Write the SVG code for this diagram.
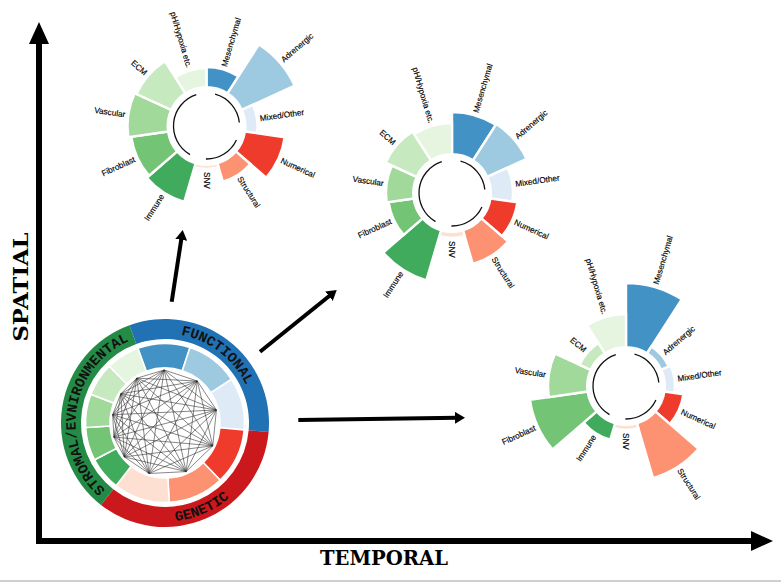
<svg xmlns="http://www.w3.org/2000/svg" xmlns:xlink="http://www.w3.org/1999/xlink" width="781" height="583" viewBox="0 0 781 583">
<style>
.bar{stroke:#fff;stroke-width:2.4}
.seg{stroke:#fff;stroke-width:1.6}
.mes{fill:#4292c6}.adr{fill:#9ecae1}.mix{fill:#deebf7}
.num{fill:#ef3b2c}.str{fill:#fc9272}.snv{fill:#fee0d2}
.imm{fill:#41ab5d}.fib{fill:#74c476}.vas{fill:#a1d99b}.ecm{fill:#c7e9c0}.ph{fill:#e5f5e0}
.l{font-family:"Liberation Sans",Arial,sans-serif;font-size:8.2px;fill:#000;stroke:#000;stroke-width:0.15}
.le{text-anchor:end}
.arcs{fill:none;stroke:#111;stroke-width:1.3}
.ring{font-family:"Liberation Mono","Courier New",monospace;font-weight:bold;font-size:14.2px;fill:#111}
.axis{stroke:#000;stroke-width:6;fill:none}
.conn{stroke:#000;stroke-width:4;fill:none}
.axlbl{font-family:"DejaVu Serif",serif;font-weight:bold;font-size:20px;fill:#000}
.net{fill:none;stroke:#222;stroke-width:0.55}
</style>
<defs>
<marker id="ah" viewBox="0 0 10 12" markerUnits="userSpaceOnUse" markerWidth="10" markerHeight="12" refX="2" refY="6" orient="auto"><path d="M0,0 L10,6 L0,12 Z" fill="#000"/></marker>
<marker id="axh" viewBox="0 0 22 20" markerUnits="userSpaceOnUse" markerWidth="22" markerHeight="20" refX="0" refY="10" orient="auto"><path d="M0,0 L22,10 L0,20 Z" fill="#000"/></marker>
<path id="roseArcs" class="arcs" d="M8.54,-31.87 A33,33 0 0 1 32.82,-3.45 M29.91,13.95 A33,33 0 0 1 -0.58,32.99 M-16.5,28.58 A33,33 0 0 1 -10.20,-31.39"/>
<path id="pFun" d="M134.39,338.90 A89.5,89.5 0 0 1 254.16,430.80"/>
<path id="pGen" d="M104.35,500.62 A98.5,98.5 0 0 0 263.13,431.59"/>
<path id="pStr" d="M109.89,493.53 A89.5,89.5 0 0 1 134.39,338.90"/>
</defs>
<rect x="0" y="0" width="781" height="583" fill="#fff"/>
<line x1="0" y1="581" x2="781" y2="581" stroke="#cfcfcf" stroke-width="2"/>

<g id="axes">
<line class="axis" x1="39" y1="544" x2="39" y2="44" marker-end="url(#axh)"/>
<line class="axis" x1="36" y1="541" x2="751" y2="541" marker-end="url(#axh)"/>
<text id="axis-spatial" class="axlbl" transform="translate(27.5,287) rotate(-90)" text-anchor="middle" textLength="109" lengthAdjust="spacingAndGlyphs">SPATIAL</text>
<text id="axis-temporal" class="axlbl" x="384" y="565" text-anchor="middle" textLength="128" lengthAdjust="spacingAndGlyphs">TEMPORAL</text>
</g>

<g id="connectors">
<line class="conn" x1="171.7" y1="301.7" x2="181.5" y2="237.9" marker-end="url(#ah)"/>
<line class="conn" x1="260" y1="351.7" x2="330.5" y2="295" marker-end="url(#ah)"/>
<line class="conn" x1="298.3" y1="420" x2="457" y2="417.8" marker-end="url(#ah)"/>
</g>

<g id="hub">
<g transform="translate(165,423)">
<path fill="#2171b5" d="M-35.57,-97.73 A104,104 0 0 1 103.60,9.06 L83.68,7.32 A84,84 0 0 0 -28.73,-78.93 Z"/>
<path fill="#cb181d" d="M103.60,9.06 A104,104 0 0 1 -64.03,81.95 L-51.72,66.19 A84,84 0 0 0 83.68,7.32 Z"/>
<path fill="#238b45" d="M-64.03,81.95 A104,104 0 0 1 -35.57,-97.73 L-28.73,-78.93 A84,84 0 0 0 -51.72,66.19 Z"/>
<path class="seg mes" d="M-27.19,-74.71 A79.5,79.5 0 0 1 25.00,-75.47 L17.30,-52.21 A55,55 0 0 0 -18.81,-51.68 Z"/>
<path class="seg adr" d="M25.00,-75.47 A79.5,79.5 0 0 1 66.42,-43.69 L45.95,-30.22 A55,55 0 0 0 17.30,-52.21 Z"/>
<path class="seg mix" d="M66.42,-43.69 A79.5,79.5 0 0 1 79.20,6.93 L54.79,4.80 A55,55 0 0 0 45.95,-30.22 Z"/>
<path class="seg num" d="M79.20,6.93 A79.5,79.5 0 0 1 55.23,57.18 L38.21,39.56 A55,55 0 0 0 54.79,4.80 Z"/>
<path class="seg str" d="M55.23,57.18 A79.5,79.5 0 0 1 4.16,79.39 L2.88,54.92 A55,55 0 0 0 38.21,39.56 Z"/>
<path class="seg snv" d="M4.16,79.39 A79.5,79.5 0 0 1 -48.95,62.65 L-33.86,43.34 A55,55 0 0 0 2.88,54.92 Z"/>
<path class="seg imm" d="M-48.95,62.65 A79.5,79.5 0 0 1 -70.45,36.83 L-48.74,25.48 A55,55 0 0 0 -33.86,43.34 Z"/>
<path class="seg fib" d="M-70.45,36.83 A79.5,79.5 0 0 1 -79.37,4.44 L-54.91,3.07 A55,55 0 0 0 -48.74,25.48 Z"/>
<path class="seg vas" d="M-79.37,4.44 A79.5,79.5 0 0 1 -74.12,-28.75 L-51.28,-19.89 A55,55 0 0 0 -54.91,3.07 Z"/>
<path class="seg ecm" d="M-74.12,-28.75 A79.5,79.5 0 0 1 -55.63,-56.80 L-38.48,-39.30 A55,55 0 0 0 -51.28,-19.89 Z"/>
<path class="seg ph" d="M-55.63,-56.80 A79.5,79.5 0 0 1 -27.19,-74.71 L-18.81,-51.68 A55,55 0 0 0 -38.48,-39.30 Z"/>
</g>
<path class="net" d="M164.2,370 L197.3,381 L216.4,410 L212.8,445.8 L186.1,471.6 L149.1,473.5 L124.3,456.9 L113.9,437.1 L112.7,414.7 L120.8,393.8 L136.8,378.2 Z
M164.2,370 L216.4,410 L186.1,471.6 L124.3,456.9 L112.7,414.7 L136.8,378.2 L197.3,381 L212.8,445.8 L149.1,473.5 L113.9,437.1 L120.8,393.8 Z
M164.2,370 L212.8,445.8 L124.3,456.9 L120.8,393.8 L197.3,381 L186.1,471.6 L113.9,437.1 L136.8,378.2 L216.4,410 L149.1,473.5 L112.7,414.7 Z
M164.2,370 L186.1,471.6 L112.7,414.7 L197.3,381 L149.1,473.5 L120.8,393.8 L216.4,410 L124.3,456.9 L136.8,378.2 L212.8,445.8 L113.9,437.1 Z
M164.2,370 L149.1,473.5 L136.8,378.2 L186.1,471.6 L120.8,393.8 L212.8,445.8 L112.7,414.7 L216.4,410 L113.9,437.1 L197.3,381 L124.3,456.9 Z"/>
<text class="ring"><textPath xlink:href="#pFun" href="#pFun" startOffset="50%" text-anchor="middle">FUNCTIONAL</textPath></text>
<text class="ring"><textPath xlink:href="#pGen" href="#pGen" startOffset="50%" text-anchor="middle">GENETIC</textPath></text>
<text class="ring"><textPath xlink:href="#pStr" href="#pStr" startOffset="50%" text-anchor="middle">STROMAL/EVNIRONMENTAL</textPath></text>
</g>

<g id="rose-1" transform="translate(206.5,126)">
<path class="bar mes" d="M0,-38.8 L0,-59 A59,59 0 0 1 31.90,-49.64 L20.98,-32.64 A38.8,38.8 0 0 0 0,-38.8 Z"/>
<path class="bar adr" d="M20.98,-32.64 L52.44,-81.61 A97,97 0 0 1 88.23,-40.29 L35.29,-16.12 A38.8,38.8 0 0 0 20.98,-32.64 Z"/>
<path class="bar mix" d="M35.29,-16.12 L46.39,-21.19 A51,51 0 0 1 50.48,7.26 L38.40,5.52 A38.8,38.8 0 0 0 35.29,-16.12 Z"/>
<path class="bar num" d="M38.40,5.52 L78.19,11.24 A79,79 0 0 1 59.70,51.74 L29.32,25.41 A38.8,38.8 0 0 0 38.40,5.52 Z"/>
<path class="bar str" d="M29.32,25.41 L43.83,37.98 A58,58 0 0 1 16.34,55.65 L10.93,37.23 A38.8,38.8 0 0 0 29.32,25.41 Z"/>
<path class="bar snv" d="M10.93,37.23 L12.11,41.26 A43,43 0 0 1 -12.11,41.26 L-10.93,37.23 A38.8,38.8 0 0 0 10.93,37.23 Z"/>
<path class="bar imm" d="M-10.93,37.23 L-22.25,75.80 A79,79 0 0 1 -59.70,51.74 L-29.32,25.41 A38.8,38.8 0 0 0 -10.93,37.23 Z"/>
<path class="bar fib" d="M-29.32,25.41 L-57.43,49.77 A76,76 0 0 1 -75.22,10.81 L-38.40,5.52 A38.8,38.8 0 0 0 -29.32,25.41 Z"/>
<path class="bar vas" d="M-38.40,5.52 L-78.19,11.24 A79,79 0 0 1 -71.86,-32.82 L-35.29,-16.12 A38.8,38.8 0 0 0 -38.40,5.52 Z"/>
<path class="bar ecm" d="M-35.29,-16.12 L-70.04,-31.99 A77,77 0 0 1 -41.63,-64.78 L-20.98,-32.64 A38.8,38.8 0 0 0 -35.29,-16.12 Z"/>
<path class="bar ph" d="M-20.98,-32.64 L-31.35,-48.80 A58,58 0 0 1 0,-58 L0,-38.8 A38.8,38.8 0 0 0 -20.98,-32.64 Z"/>
<use xlink:href="#roseArcs" href="#roseArcs"/>
<text class="l" transform="rotate(-73.64) translate(62,0)" dy=".35em">Mesenchymal</text>
<text class="l" transform="rotate(-40.91) translate(100,0)" dy=".35em">Adrenergic</text>
<text class="l" transform="rotate(-8.18) translate(54,0)" dy=".35em">Mixed/Other</text>
<text class="l" transform="rotate(24.55) translate(82,0)" dy=".35em">Numerical</text>
<text class="l" transform="rotate(57.27) translate(61,0)" dy=".35em">Structural</text>
<text class="l" transform="rotate(90) translate(46,0)" dy=".35em">SNV</text>
<text class="l le" transform="rotate(-57.27) translate(-82,0)" dy=".35em">Immune</text>
<text class="l le" transform="rotate(-24.55) translate(-79,0)" dy=".35em">Fibroblast</text>
<text class="l le" transform="rotate(8.18) translate(-82,0)" dy=".35em">Vascular</text>
<text class="l le" transform="rotate(40.91) translate(-80,0)" dy=".35em">ECM</text>
<text class="l le" transform="rotate(73.64) translate(-61,0)" dy=".35em">pH/Hypoxia etc.</text>
</g>

<g id="rose-2" transform="translate(452,193)">
<path class="bar mes" d="M0,-38.8 L0,-81 A81,81 0 0 1 43.79,-68.15 L20.98,-32.64 A38.8,38.8 0 0 0 0,-38.8 Z"/>
<path class="bar adr" d="M20.98,-32.64 L44.33,-68.99 A82,82 0 0 1 74.59,-34.06 L35.29,-16.12 A38.8,38.8 0 0 0 20.98,-32.64 Z"/>
<path class="bar mix" d="M35.29,-16.12 L55.49,-25.34 A61,61 0 0 1 60.38,8.68 L38.40,5.52 A38.8,38.8 0 0 0 35.29,-16.12 Z"/>
<path class="bar num" d="M38.40,5.52 L65.33,9.39 A66,66 0 0 1 49.88,43.22 L29.32,25.41 A38.8,38.8 0 0 0 38.40,5.52 Z"/>
<path class="bar str" d="M29.32,25.41 L55.92,48.46 A74,74 0 0 1 20.85,71.00 L10.93,37.23 A38.8,38.8 0 0 0 29.32,25.41 Z"/>
<path class="bar snv" d="M10.93,37.23 L12.68,43.18 A45,45 0 0 1 -12.68,43.18 L-10.93,37.23 A38.8,38.8 0 0 0 10.93,37.23 Z"/>
<path class="bar imm" d="M-10.93,37.23 L-25.63,87.31 A91,91 0 0 1 -68.77,59.60 L-29.32,25.41 A38.8,38.8 0 0 0 -10.93,37.23 Z"/>
<path class="bar fib" d="M-29.32,25.41 L-48.36,41.91 A64,64 0 0 1 -63.35,9.11 L-38.40,5.52 A38.8,38.8 0 0 0 -29.32,25.41 Z"/>
<path class="bar vas" d="M-38.40,5.52 L-65.33,9.39 A66,66 0 0 1 -60.03,-27.42 L-35.29,-16.12 A38.8,38.8 0 0 0 -38.40,5.52 Z"/>
<path class="bar ecm" d="M-35.29,-16.12 L-66.40,-30.32 A73,73 0 0 1 -39.46,-61.41 L-20.98,-32.64 A38.8,38.8 0 0 0 -35.29,-16.12 Z"/>
<path class="bar ph" d="M-20.98,-32.64 L-37.84,-58.89 A70,70 0 0 1 0,-70 L0,-38.8 A38.8,38.8 0 0 0 -20.98,-32.64 Z"/>
<use xlink:href="#roseArcs" href="#roseArcs"/>
<text class="l" transform="rotate(-73.64) translate(84,0)" dy=".35em">Mesenchymal</text>
<text class="l" transform="rotate(-40.91) translate(85,0)" dy=".35em">Adrenergic</text>
<text class="l" transform="rotate(-8.18) translate(64,0)" dy=".35em">Mixed/Other</text>
<text class="l" transform="rotate(24.55) translate(69,0)" dy=".35em">Numerical</text>
<text class="l" transform="rotate(57.27) translate(77,0)" dy=".35em">Structural</text>
<text class="l" transform="rotate(90) translate(48,0)" dy=".35em">SNV</text>
<text class="l le" transform="rotate(-57.27) translate(-94,0)" dy=".35em">Immune</text>
<text class="l le" transform="rotate(-24.55) translate(-67,0)" dy=".35em">Fibroblast</text>
<text class="l le" transform="rotate(8.18) translate(-69,0)" dy=".35em">Vascular</text>
<text class="l le" transform="rotate(40.91) translate(-76,0)" dy=".35em">ECM</text>
<text class="l le" transform="rotate(73.64) translate(-73,0)" dy=".35em">pH/Hypoxia etc.</text>
</g>

<g id="rose-3" transform="translate(626,386)">
<path class="bar mes" d="M0,-38.8 L0,-103 A103,103 0 0 1 55.68,-86.65 L20.98,-32.64 A38.8,38.8 0 0 0 0,-38.8 Z"/>
<path class="bar adr" d="M20.98,-32.64 L25.41,-39.54 A47,47 0 0 1 42.75,-19.52 L35.29,-16.12 A38.8,38.8 0 0 0 20.98,-32.64 Z"/>
<path class="bar mix" d="M35.29,-16.12 L44.57,-20.35 A49,49 0 0 1 48.50,6.97 L38.40,5.52 A38.8,38.8 0 0 0 35.29,-16.12 Z"/>
<path class="bar num" d="M38.40,5.52 L57.41,8.25 A58,58 0 0 1 43.83,37.98 L29.32,25.41 A38.8,38.8 0 0 0 38.40,5.52 Z"/>
<path class="bar str" d="M29.32,25.41 L72.55,62.87 A96,96 0 0 1 27.04,92.11 L10.93,37.23 A38.8,38.8 0 0 0 29.32,25.41 Z"/>
<path class="bar snv" d="M10.93,37.23 L12.39,42.22 A44,44 0 0 1 -12.39,42.22 L-10.93,37.23 A38.8,38.8 0 0 0 10.93,37.23 Z"/>
<path class="bar imm" d="M-10.93,37.23 L-15.78,53.73 A56,56 0 0 1 -42.32,36.67 L-29.32,25.41 A38.8,38.8 0 0 0 -10.93,37.23 Z"/>
<path class="bar fib" d="M-29.32,25.41 L-73.30,63.53 A97,97 0 0 1 -96.01,13.80 L-38.40,5.52 A38.8,38.8 0 0 0 -29.32,25.41 Z"/>
<path class="bar vas" d="M-38.40,5.52 L-77.20,11.10 A78,78 0 0 1 -70.95,-32.40 L-35.29,-16.12 A38.8,38.8 0 0 0 -38.40,5.52 Z"/>
<path class="bar ecm" d="M-35.29,-16.12 L-46.39,-21.19 A51,51 0 0 1 -27.57,-42.91 L-20.98,-32.64 A38.8,38.8 0 0 0 -35.29,-16.12 Z"/>
<path class="bar ph" d="M-20.98,-32.64 L-38.92,-60.57 A72,72 0 0 1 0,-72 L0,-38.8 A38.8,38.8 0 0 0 -20.98,-32.64 Z"/>
<use xlink:href="#roseArcs" href="#roseArcs"/>
<text class="l" transform="rotate(-73.64) translate(106,0)" dy=".35em">Mesenchymal</text>
<text class="l" transform="rotate(-40.91) translate(50,0)" dy=".35em">Adrenergic</text>
<text class="l" transform="rotate(-8.18) translate(52,0)" dy=".35em">Mixed/Other</text>
<text class="l" transform="rotate(24.55) translate(61,0)" dy=".35em">Numerical</text>
<text class="l" transform="rotate(57.27) translate(99,0)" dy=".35em">Structural</text>
<text class="l" transform="rotate(90) translate(47,0)" dy=".35em">SNV</text>
<text class="l le" transform="rotate(-57.27) translate(-59,0)" dy=".35em">Immune</text>
<text class="l le" transform="rotate(-24.55) translate(-100,0)" dy=".35em">Fibroblast</text>
<text class="l le" transform="rotate(8.18) translate(-81,0)" dy=".35em">Vascular</text>
<text class="l le" transform="rotate(40.91) translate(-54,0)" dy=".35em">ECM</text>
<text class="l le" transform="rotate(73.64) translate(-75,0)" dy=".35em">pH/Hypoxia etc.</text>
</g>
</svg>
